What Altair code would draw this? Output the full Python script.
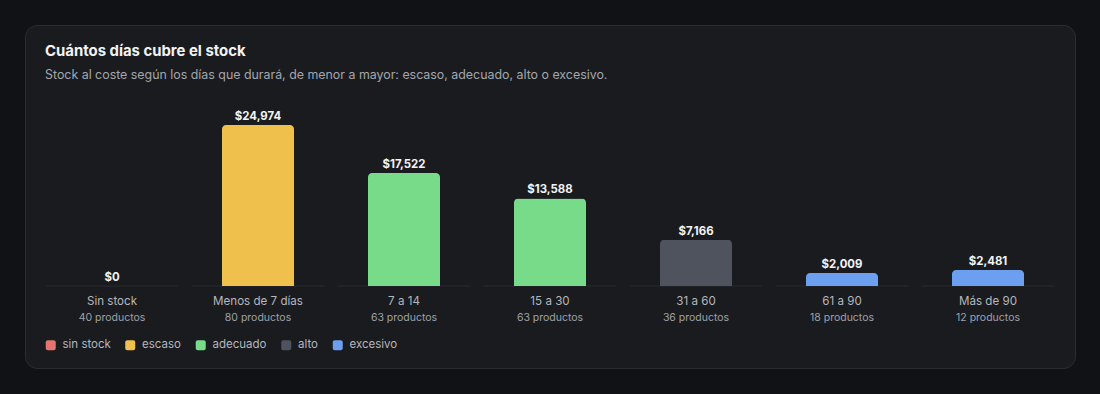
import altair as alt
import pandas as pd

categories = ["Sin stock", "Menos de 7 días", "7 a 14", "15 a 30", "31 a 60", "61 a 90", "Más de 90"]
values = [0, 24974, 17522, 13588, 7166, 2009, 2481]
counts = [40, 80, 63, 63, 36, 18, 12]
status = ["sin stock", "escaso", "adecuado", "adecuado", "alto", "excesivo", "excesivo"]
status_order = ["sin stock", "escaso", "adecuado", "alto", "excesivo"]
status_colors = ["#e5736f", "#f0c04c", "#78db8a", "#4e535d", "#6c9ff0"]

title_text = "Cuántos días cubre el stock"
subtitle_text = "Stock al coste según los días que durará, de menor a mayor: escaso, adecuado, alto o excesivo."

FONT = "Inter"

df = pd.DataFrame({
    "cat": categories,
    "value": values,
    "count_label": [f"{c} productos" for c in counts],
    "status": status,
})
one = pd.DataFrame({"k": [0]})

x_enc = alt.X("cat:N", sort=categories, axis=None,
              scale=alt.Scale(range=[39, 1061], paddingInner=0, paddingOuter=0))
y_scale = alt.Scale(domain=[0, max(values)], range=[286, 125], nice=False, zero=True)

base = alt.Chart(df)

card = alt.Chart(one).mark_rect(
    fill="#1a1b1f", stroke="#2b2d32", strokeWidth=1, cornerRadius=12
).encode(x=alt.value(25.5), x2=alt.value(1075.5), y=alt.value(25.5), y2=alt.value(368.5))

baseline = base.mark_tick(orient="horizontal", size=133, thickness=1, color="#2f3137").encode(
    x=x_enc, y=alt.Y("zero:Q", scale=y_scale, axis=None)
).transform_calculate(zero="0")

bars = base.mark_bar(width=72, cornerRadiusTopLeft=4, cornerRadiusTopRight=4).encode(
    x=x_enc,
    y=alt.Y("value:Q", scale=y_scale, axis=None),
    color=alt.Color("status:N",
                    scale=alt.Scale(domain=status_order, range=status_colors),
                    legend=alt.Legend(
                        title=None, orient="none", legendX=45, legendY=339,
                        direction="horizontal",
                        symbolType="M-0.6,-1H0.6A0.4,0.4,0,0,1,1,-0.6V0.6A0.4,0.4,0,0,1,0.6,1H-0.6A0.4,0.4,0,0,1,-1,0.6V-0.6A0.4,0.4,0,0,1,-0.6,-1Z",
                        symbolSize=100, symbolStrokeWidth=0, symbolOpacity=1,
                        labelColor="#b4b7bd", labelFont=FONT, labelFontSize=11.5,
                        labelOffset=6, columnPadding=13.5,
                    )),
)

value_text = base.mark_text(
    baseline="bottom", dy=-3, font=FONT, fontSize=11.4, fontWeight="bold", color="#f2f3f5"
).encode(
    x=x_enc,
    y=alt.Y("value:Q", scale=y_scale, axis=None),
    text=alt.Text("value:Q", format="$,.0f"),
)

cat_text = base.mark_text(
    baseline="middle", font=FONT, fontSize=11.6, color="#b4b7bd"
).encode(x=x_enc, y=alt.value(302), text="cat:N")

count_text = base.mark_text(
    baseline="middle", font=FONT, fontSize=10.5, color="#9ea2a9"
).encode(x=x_enc, y=alt.value(317.5), text="count_label:N")

title = alt.Chart(one).mark_text(
    align="left", baseline="middle", font=FONT, fontSize=14.9, fontWeight="bold", color="#f2f3f5"
).encode(x=alt.value(45), y=alt.value(51.5), text=alt.value(title_text))

subtitle = alt.Chart(one).mark_text(
    align="left", baseline="middle", font=FONT, fontSize=12.4, color="#a3a7ae"
).encode(x=alt.value(45), y=alt.value(74.5), text=alt.value(subtitle_text))

chart = alt.layer(card, baseline, bars, value_text, cat_text, count_text, title, subtitle).properties(
    width=1100, height=394,
    autosize=alt.AutoSizeParams(type="none"),
    padding=0,
    background="#111216",
).configure_view(stroke=None).resolve_scale(x="shared", y="shared")

chart.save("out.html", embed_options={"renderer": "svg", "actions": False})
